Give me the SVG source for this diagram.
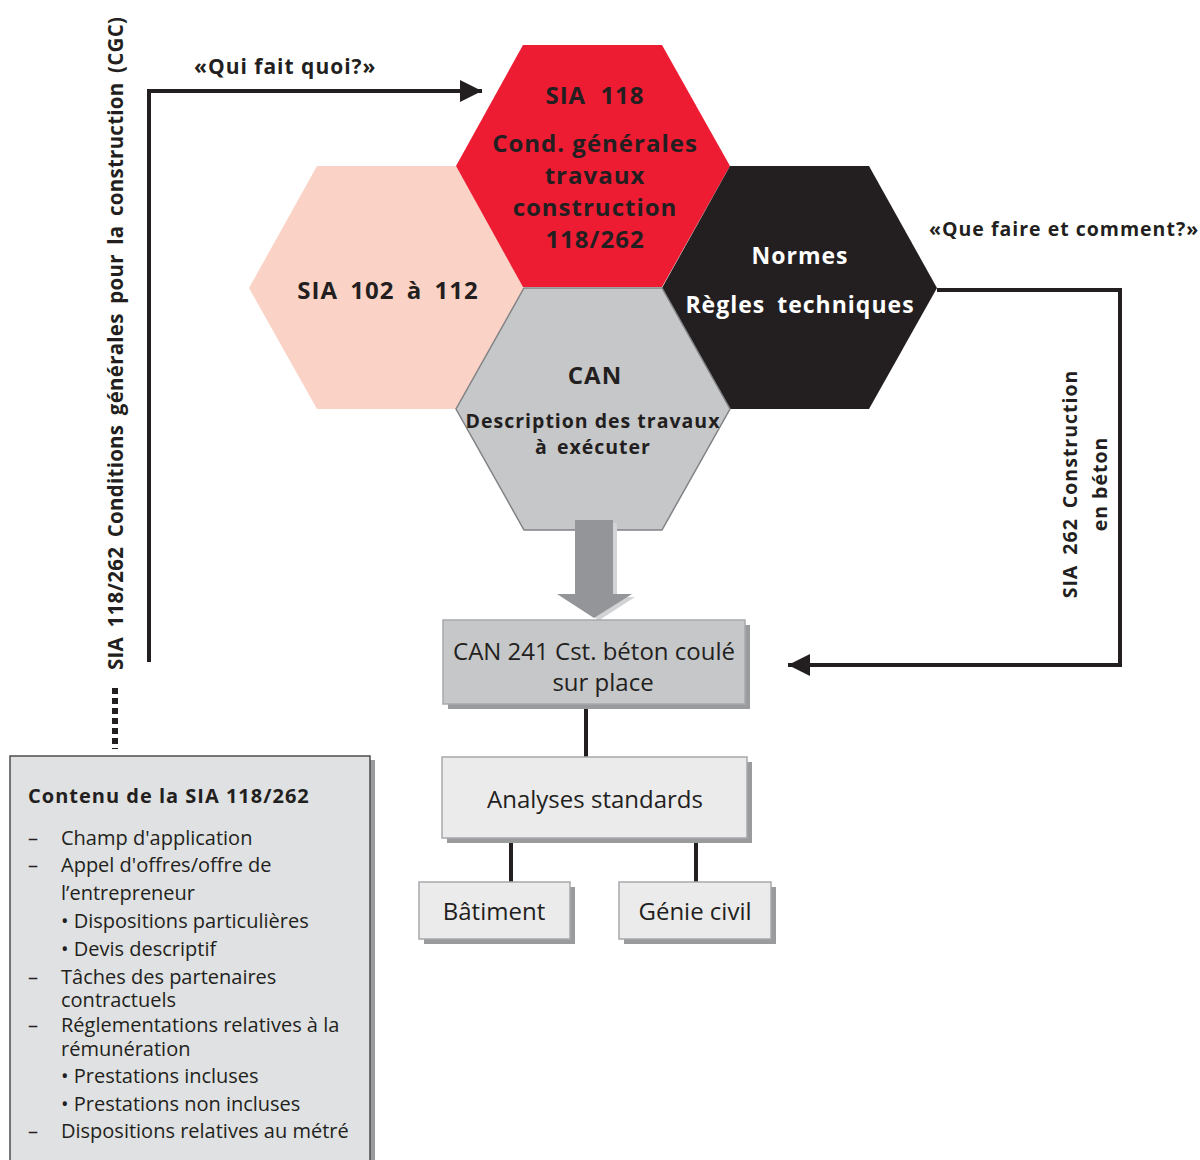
<svg xmlns="http://www.w3.org/2000/svg" width="1200" height="1160" viewBox="0 0 1200 1160">
<defs>
<style>
.b{font-family:"Open Sans","Noto Sans","Liberation Sans",sans-serif;font-weight:700;fill:#231F20;letter-spacing:1px}
.n{font-family:"Open Sans","Noto Sans","Liberation Sans",sans-serif;font-weight:400;fill:#231F20}
.w{fill:#FFFFFF}
.conn{fill:none;stroke:#231F20;stroke-width:4}
.shadow{fill:#9A9B9D}
.box{stroke:#A7A9AC;stroke-width:1.5}
</style>
<marker id="ah" viewBox="0 0 10 10" refX="10" refY="5" markerWidth="5.5" markerHeight="5.5" markerUnits="strokeWidth" orient="auto">
<path d="M0,0 L10,5 L0,10 Z" fill="#231F20"/>
</marker>
</defs>
<rect width="1200" height="1160" fill="#FFFFFF"/>

<g id="hex-sia102">
<polygon points="317,166 456,166 524,288 456,409 317,409 249,288" fill="#FBD3C6"/>
<text class="b" x="388" y="299" font-size="24" text-anchor="middle" word-spacing="5">SIA 102 à 112</text>
</g>

<g id="hex-sia118">
<polygon points="523,45 662,45 730,166 662,287 523,287 456,166" fill="#ED1C33"/>
<text class="b" x="595" y="104" font-size="24" text-anchor="middle" word-spacing="7">SIA 118</text>
<text class="b" x="595" y="152" font-size="24" text-anchor="middle">Cond. générales</text>
<text class="b" x="595" y="184" font-size="24" text-anchor="middle">travaux</text>
<text class="b" x="595" y="216" font-size="24" text-anchor="middle">construction</text>
<text class="b" x="595" y="248" font-size="24" text-anchor="middle">118/262</text>
</g>

<g id="hex-normes">
<polygon points="730,166 869,166 937,288 869,409 730,409 662,288" fill="#231F20"/>
<text class="b w" x="800" y="264" font-size="23" text-anchor="middle">Normes</text>
<text class="b w" x="800" y="313" font-size="23" text-anchor="middle" word-spacing="5">Règles techniques</text>
</g>

<g id="hex-can">
<polygon points="524,288 662,288 730,409 662,530 524,530 456,409" fill="#C6C7C9" stroke="#808285" stroke-width="1.5"/>
<text class="b" x="595" y="384" font-size="24" text-anchor="middle">CAN</text>
<text class="b" x="593" y="428" font-size="19.5" text-anchor="middle" letter-spacing="0.5">Description des travaux</text>
<text class="b" x="593" y="454" font-size="19.5" text-anchor="middle" letter-spacing="0.5" word-spacing="3">à exécuter</text>
</g>

<g id="big-arrow">
<polygon points="579,523 617,523 617,597 635,597 598,621 579,597" fill="#D1D3D4"/>
<polygon points="575,520 613,520 613,594 632,594 594,618 557,594 575,594" fill="#939598"/>
</g>

<g id="connectors">
<polyline class="conn" points="149,662 149,91 482,91" marker-end="url(#ah)"/>
<polyline class="conn" points="937,290 1120,290 1120,665 788,665" marker-end="url(#ah)"/>
<line x1="115" y1="688" x2="115" y2="749" stroke="#231F20" stroke-width="6" stroke-dasharray="6 4"/>
<line class="conn" x1="586" y1="704" x2="586" y2="757"/>
<line class="conn" x1="511" y1="838" x2="511" y2="882"/>
<line class="conn" x1="696" y1="838" x2="696" y2="882"/>
</g>

<g id="label-qui">
<text class="b" x="194" y="74" font-size="21">«Qui fait quoi?»</text>
</g>
<g id="label-que">
<text class="b" x="929" y="236" font-size="19.5">«Que faire et comment?»</text>
</g>
<g id="label-cgc">
<text class="b" transform="translate(123,343) rotate(-90)" font-size="20.5" text-anchor="middle" letter-spacing="0" word-spacing="4" textLength="654" lengthAdjust="spacing">SIA 118/262 Conditions générales pour la construction (CGC)</text>
</g>
<g id="label-sia262">
<text class="b" transform="translate(1077,484) rotate(-90)" font-size="19.5" text-anchor="middle" word-spacing="4">SIA 262 Construction</text>
<text class="b" transform="translate(1107,484) rotate(-90)" font-size="19.5" text-anchor="middle">en béton</text>
</g>

<g id="box-can241">
<rect class="shadow" x="448" y="625" width="302" height="84"/>
<rect class="box" x="443" y="620" width="302" height="84" fill="#C6C7C9"/>
<text class="n" x="594" y="660" font-size="24" text-anchor="middle">CAN 241 Cst. béton coulé</text>
<text class="n" x="603" y="691" font-size="24" text-anchor="middle">sur place</text>
</g>

<g id="box-analyses">
<rect class="shadow" x="447" y="762" width="305" height="81"/>
<rect class="box" x="442" y="757" width="305" height="81" fill="#EBEBEC"/>
<text class="n" x="595" y="808" font-size="24" text-anchor="middle">Analyses standards</text>
</g>

<g id="box-batiment">
<rect class="shadow" x="424" y="887" width="151" height="57"/>
<rect class="box" x="419" y="882" width="151" height="57" fill="#EBEBEC"/>
<text class="n" x="494" y="920" font-size="24" text-anchor="middle">Bâtiment</text>
</g>

<g id="box-genie">
<rect class="shadow" x="624" y="887" width="152" height="57"/>
<rect class="box" x="619" y="882" width="152" height="57" fill="#EBEBEC"/>
<text class="n" x="695" y="920" font-size="24" text-anchor="middle">Génie civil</text>
</g>

<g id="box-contenu">
<rect class="shadow" x="14" y="760" width="361" height="410"/>
<rect x="10" y="756" width="360" height="410" fill="#E0E1E2" stroke="#4D4D4F" stroke-width="1.5"/>
<text class="b" x="28" y="803" font-size="20" letter-spacing="0.5">Contenu de la SIA 118/262</text>
<g class="n" font-size="20">
<text x="28" y="845">–</text><text x="61" y="845">Champ d'application</text>
<text x="28" y="872">–</text><text x="61" y="872">Appel d'offres/offre de</text>
<text x="61" y="900">l’entrepreneur</text>
<text x="61" y="928">• Dispositions particulières</text>
<text x="61" y="956">• Devis descriptif</text>
<text x="28" y="984">–</text><text x="61" y="984">Tâches des partenaires</text>
<text x="61" y="1007">contractuels</text>
<text x="28" y="1032">–</text><text x="61" y="1032">Réglementations relatives à la</text>
<text x="61" y="1056">rémunération</text>
<text x="61" y="1083">• Prestations incluses</text>
<text x="61" y="1111">• Prestations non incluses</text>
<text x="28" y="1138">–</text><text x="61" y="1138">Dispositions relatives au métré</text>
</g>
</g>
</svg>
